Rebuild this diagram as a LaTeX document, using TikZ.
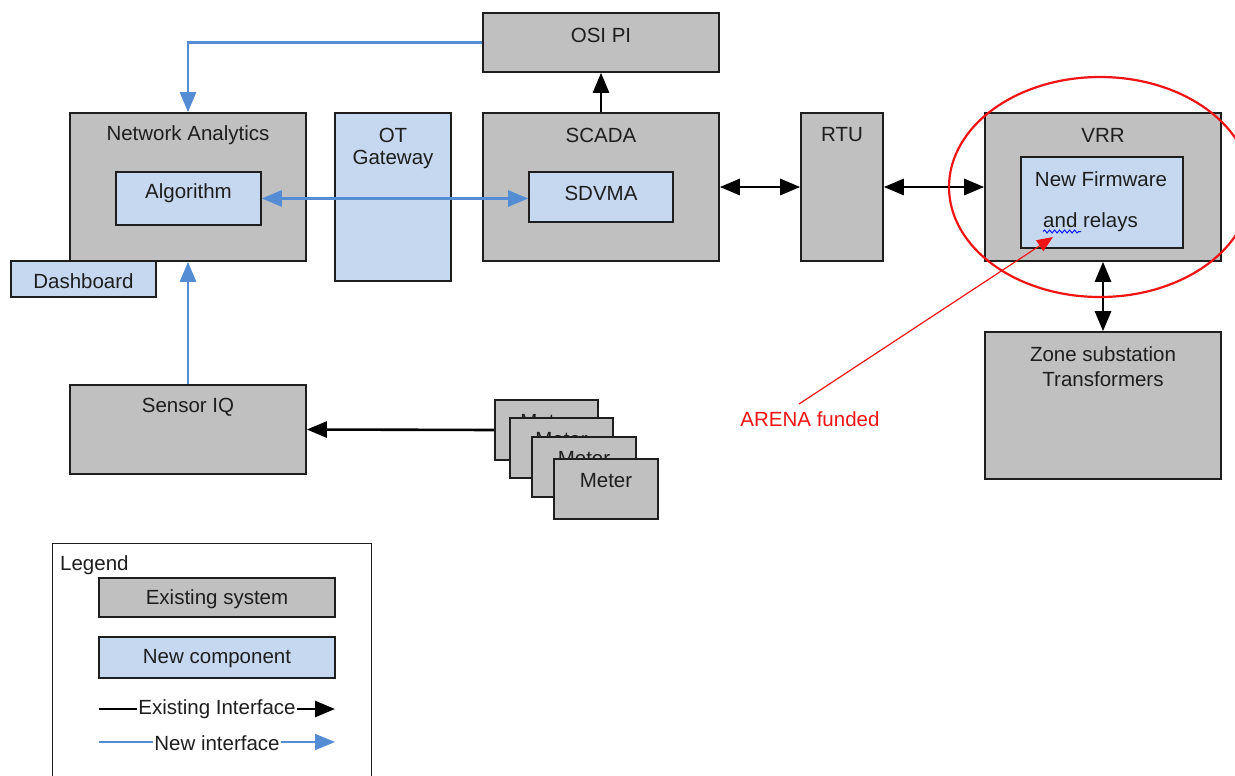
\documentclass[tikz,border=0pt]{standalone}
\usepackage{fontspec}
\setmainfont{Liberation Sans}
\usetikzlibrary{arrows.meta,decorations.pathmorphing}
\definecolor{boxgray}{RGB}{192,192,192}
\definecolor{boxblue}{RGB}{198,216,240}
\definecolor{linkblue}{RGB}{85,141,213}
\definecolor{ink}{RGB}{30,30,30}
\definecolor{annred}{RGB}{240,20,20}
\tikzset{
  gbox/.style={draw=ink, line width=1.6pt, fill=boxgray, inner sep=0pt},
  bbox/.style={draw=ink, line width=1.6pt, fill=boxblue, inner sep=0pt},
  txt/.style={text=ink, inner sep=0pt, align=center},
  oldlink/.style={draw=black, line width=2.6pt, -{Triangle[length=20pt,width=16pt]}},
  oldboth/.style={draw=black, line width=2.6pt, {Triangle[length=20pt,width=16pt]}-{Triangle[length=20pt,width=16pt]}},
  newlink/.style={draw=linkblue, line width=2.6pt, -{Triangle[length=20pt,width=16pt]}},
  newboth/.style={draw=linkblue, line width=2.6pt, {Triangle[length=20pt,width=16pt]}-{Triangle[length=20pt,width=16pt]}},
}
\begin{document}
\begin{tikzpicture}[x=1pt,y=-1pt, font=\fontsize{20.5}{24}\selectfont]
\useasboundingbox (0,0) rectangle (1235,776);
\clip (0,0) rectangle (1235,776);
\fill[white] (0,0) rectangle (1235,776);

% boxes
\node[gbox, minimum width=236pt, minimum height=59pt] (osi) at (601,42.5) {};
\node[txt] (osit) at (601,35) {OSI PI};

\node[gbox, minimum width=236pt, minimum height=148pt] (na) at (188,187) {};
\node[txt] (nat) at (188,135) {Network Analytics};
\node[bbox, minimum width=145pt, minimum height=53pt] (alg) at (188.5,198.5) {};
\node[txt] (algt) at (188.5,193) {Algorithm};

\node[bbox, minimum width=116pt, minimum height=168pt] (ot) at (393,197) {};
\node[txt] (ott) at (393,135) {OT};
\node[txt] (ott2) at (393,159) {Gateway};

\node[gbox, minimum width=236pt, minimum height=148pt] (scada) at (601,187) {};
\node[txt] (scadat) at (601,135) {SCADA};
\node[bbox, minimum width=144pt, minimum height=50pt] (sdvma) at (601,197) {};
\node[txt] (sdvmat) at (601,193) {SDVMA};

\node[gbox, minimum width=82pt, minimum height=148pt] (rtu) at (842,187) {};
\node[txt] (rtut) at (842,135) {RTU};

\node[gbox, minimum width=236pt, minimum height=148pt] (vrr) at (1103,187) {};
\node[txt] (vrrt) at (1103,135) {VRR};
\node[bbox, minimum width=162pt, minimum height=91pt] (fw) at (1102,202.5) {};
\node[txt] (fwt) at (1101,179) {New Firmware};
\node[txt, anchor=west] (fwt2) at (1043,222) {and relays};
\draw[blue!80!linkblue, line width=1pt, decorate, decoration={snake, segment length=5pt, amplitude=1.5pt}] (1043,231.5) -- (1081,231.5);

\node[bbox, minimum width=145pt, minimum height=36pt] (dash) at (83.5,279) {};
\node[txt] (dasht) at (83.5,281) {Dashboard};

\node[gbox, minimum width=236pt, minimum height=89pt] (sens) at (188,429.5) {};
\node[txt] (senst) at (188,407) {Sensor IQ};

\node[gbox, minimum width=236pt, minimum height=147pt] (zone) at (1103,405.5) {};
\node[txt] (zonet) at (1103,354) {Zone substation};
\node[txt] (zonet2) at (1103,379) {Transformers};

% meters
\node[gbox, minimum width=103pt, minimum height=60pt] (m1) at (546.5,430) {};
\node[txt] (m1t) at (546.5,422) {Meter};
\node[gbox, minimum width=103pt, minimum height=60pt] (m2) at (561.5,448) {};
\node[txt] (m2t) at (561.5,440) {Meter};
\node[gbox, minimum width=104pt, minimum height=60pt] (m3) at (584,467) {};
\node[txt] (m3t) at (584,459) {Meter};
\node[gbox, minimum width=104pt, minimum height=60pt] (m4) at (606,489) {};
\node[txt] (m4t) at (606,481) {Meter};

% connectors
\draw[newlink] (osi.west) -| (na.north);
\draw[oldlink] (scada.north) -- (osi.south);
\draw[newboth] (alg.east) -- (alg.east -| sdvma.west);
\draw[oldboth] (scada.east) -- (rtu.west);
\draw[oldboth] (rtu.east) -- (vrr.west);
\draw[oldboth] (vrr.south) -- (zone.north);
\draw[newlink] (sens.north) -- (na.south);
\draw[oldlink] (m1.west) -- (sens.east);

% annotation
\draw[annred, line width=2.2pt] (1100,187) ellipse [x radius=151pt, y radius=110pt];
\node[text=annred, inner sep=0pt] (arena) at (810,419) {ARENA funded};
\coordinate (arenaTip) at (1053,237);
\draw[annred, line width=1.2pt, -{Triangle[length=16pt,width=13pt]}] (799,404) -- (arenaTip);

% legend
\node[draw=ink, line width=1pt, fill=white, minimum width=319pt, minimum height=260pt, inner sep=0pt] (leg) at (211.5,673) {};
\node[txt, anchor=west] (legt) at (60,565) {Legend};
\node[gbox, minimum width=236pt, minimum height=39pt] (lex) at (217,597.5) {};
\node[txt] (lext) at (217,599) {Existing system};
\node[bbox, minimum width=236pt, minimum height=41pt] (lnew) at (217,657.5) {};
\node[txt] (lnewt) at (217,659) {New component};
\coordinate (le1) at (99,709);
\coordinate (le2) at (335,709);
\draw[oldlink] (le1) -- (le2);
\node[txt, fill=white, inner xsep=1pt] (leit) at (217,709) {Existing Interface};
\coordinate (ln1) at (99,742);
\coordinate (ln2) at (335,742);
\draw[newlink, line width=1.8pt] (ln1) -- (ln2);
\node[txt, fill=white, inner xsep=1pt] (lnit) at (217,743) {New interface};
\end{tikzpicture}
\end{document}
